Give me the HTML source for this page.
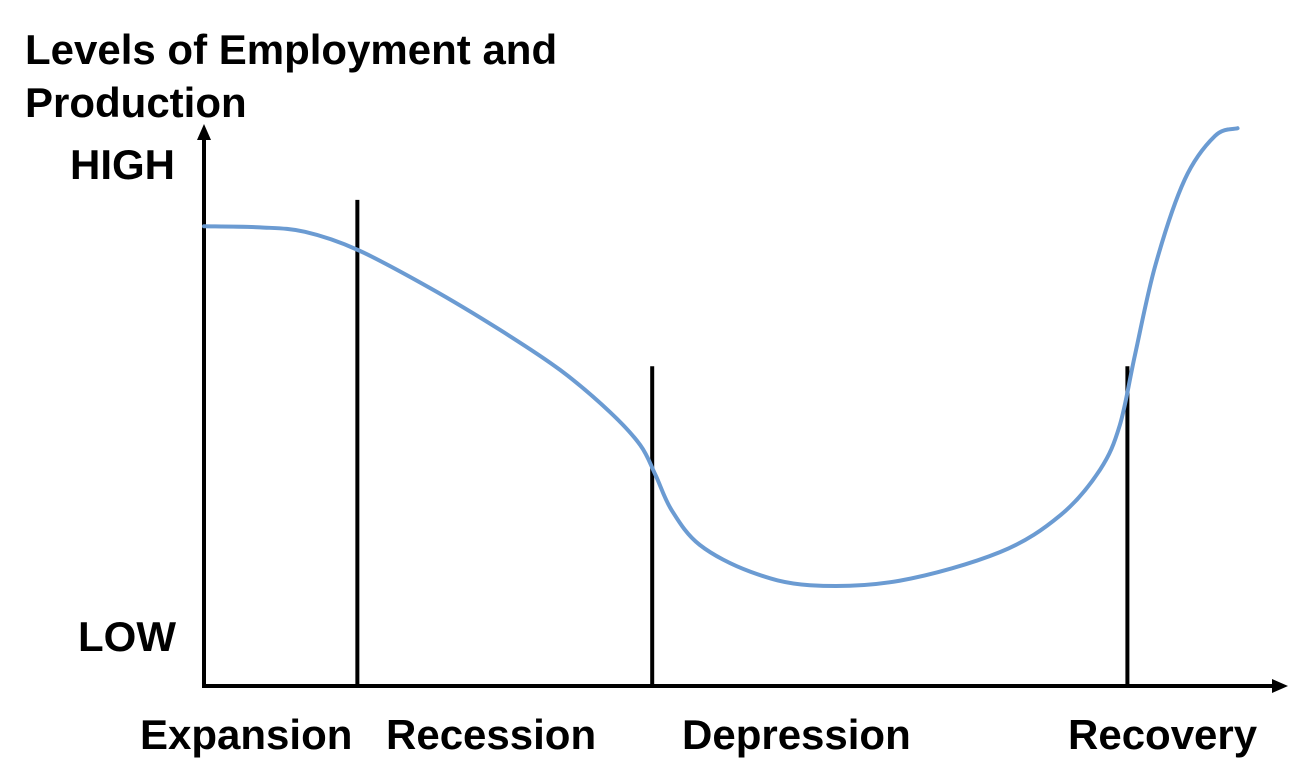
<!DOCTYPE html>
<html><head><meta charset="utf-8"><style>
html,body{margin:0;padding:0;background:#fff;}
svg{display:block;}
text{font-family:"Liberation Sans",Arial,sans-serif;font-weight:bold;fill:#000;font-size:42px;}
</style></head><body>
<svg id="chart" width="1310" height="784">
<g id="labels">
<text x="25" y="64">Levels of Employment and</text>
<text x="25" y="117">Production</text>
<text x="70" y="179">HIGH</text>
<text x="78" y="651">LOW</text>
</g>
<g id="axes"></g>
<g id="marks"></g>
</svg>
<script>
const phases = ["Expansion","Recession","Depression","Recovery"];
const dividerT = [14.2, 41.5, 85.5];
const dividerTop = [86.8, 57.1, 57.1];
const curveT = [0,5.2,9.35,14.2,20.9,27.4,33,37.6,40.4,41.8,43.3,45.9,50.6,56.1,64.4,73.7,79.3,82.96,84.8,86.2,88.1,90.8,93.6,95.7];
const curveLevel = [82.1,81.9,81.1,77.9,71.1,63.6,56.4,48.9,43,37.7,31.4,25.2,20.4,18,18.8,23.9,30.5,38.6,46.6,59.1,75.2,90.4,98.2,99.6];

const NS="http://www.w3.org/2000/svg";
const X0=204, Y0=686;
const xs=t=>X0+t*10.8;
const ys=v=>Y0-v*5.6;
function mk(tag,attrs,parent){const e=document.createElementNS(NS,tag);for(const k in attrs)e.setAttribute(k,attrs[k]);parent.appendChild(e);return e;}
const axes=document.getElementById('axes'), marks=document.getElementById('marks'), svg=document.getElementById('chart');

let e=mk('line',{x1:X0,y1:Y0,x2:X0,y2:136,stroke:'#000','stroke-width':4},axes);


e=mk('polygon',{points:`${X0-7},140 ${X0},124 ${X0+7},140`,fill:'#000'},axes);


e=mk('line',{x1:X0-2,y1:Y0,x2:1276,y2:Y0,stroke:'#000','stroke-width':4},axes);


e=mk('polygon',{points:`1272,${Y0-7} 1288,${Y0} 1272,${Y0+7}`,fill:'#000'},axes);



dividerT.forEach((t,i)=>{
  const l=mk('line',{x1:xs(t),y1:ys(dividerTop[i]),x2:xs(t),y2:Y0,stroke:'#000','stroke-width':4},axes);
  
  
});

const lblX=[140,386,682,1068];
phases.forEach((p,i)=>{
  const t=mk('text',{x:lblX[i],y:749},svg);
  t.textContent=p;
  
  
});

const P=curveT.map((t,i)=>[xs(t),ys(curveLevel[i])]);
let d=`M${P[0][0]},${P[0][1]}`;
for(let i=0;i<P.length-1;i++){
  const p0=P[i-1]||P[i],p1=P[i],p2=P[i+1],p3=P[i+2]||P[i+1];
  const c1=[p1[0]+(p2[0]-p0[0])/6,p1[1]+(p2[1]-p0[1])/6];
  const c2=[p2[0]-(p3[0]-p1[0])/6,p2[1]-(p3[1]-p1[1])/6];
  d+=` C${c1[0]},${c1[1]} ${c2[0]},${c2[1]} ${p2[0]},${p2[1]}`;
}
const c=mk('path',{d:d,fill:'none',stroke:'#6b9bd2','stroke-width':4,'stroke-linecap':'round'},marks);


</script>
</body></html>
